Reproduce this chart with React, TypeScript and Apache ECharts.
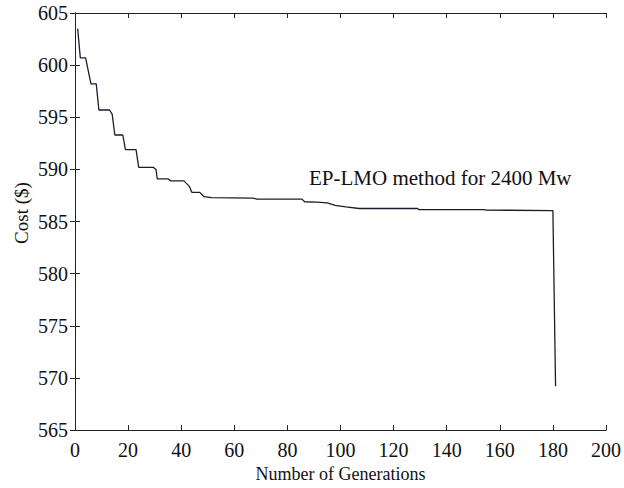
import React, { useEffect, useRef } from "react";
import * as echarts from "echarts";

const generations = [1, 2, 4, 6, 8, 9, 13, 14, 15, 18, 19, 23, 24, 29.5, 30.5, 31, 35, 36, 41, 43, 44, 47, 48.5, 51.5, 67, 68.5, 85.5, 86.5, 91, 95, 98, 102, 107, 129, 129.5, 154, 155, 180, 181];
const cost = [603.5, 600.7, 600.7, 598.2, 598.2, 595.7, 595.7, 595.3, 593.3, 593.3, 591.9, 591.9, 590.2, 590.2, 590.0, 589.1, 589.1, 588.9, 588.9, 588.4, 587.8, 587.8, 587.4, 587.3, 587.25, 587.15, 587.15, 586.9, 586.87, 586.8, 586.55, 586.4, 586.25, 586.25, 586.15, 586.15, 586.1, 586.05, 569.2];
const xTicks = [0, 20, 40, 60, 80, 100, 120, 140, 160, 180, 200];
const yTicks = [565, 570, 575, 580, 585, 590, 595, 600, 605];
const annotation = "EP-LMO method for 2400 Mw";
const yTitle = "Cost ($)";
const xTitle = "Number of Generations";

const FONT = "Liberation Serif";
const AXIS_COLOR = "#222";

export default function App() {
  const ref = useRef<HTMLDivElement>(null);
  useEffect(() => {
    document.body.style.margin = "0";
    if (!ref.current) return;
    const chart = echarts.init(ref.current, null, { renderer: "svg" });
    const axisBase = {
      axisLine: { show: true, lineStyle: { color: AXIS_COLOR, width: 1 } },
      axisTick: { show: true, inside: true, length: 5, lineStyle: { color: AXIS_COLOR, width: 1 } },
      splitLine: { show: false },
    };
    chart.setOption({
      animation: false,
      backgroundColor: "#ffffff",
      textStyle: { fontFamily: FONT },
      grid: { left: 75, right: 15, top: 13, bottom: 55, containLabel: false },
      xAxis: [
        {
          type: "value",
          min: xTicks[0],
          max: xTicks[xTicks.length - 1],
          interval: 20,
          position: "bottom",
          ...axisBase,
          axisLabel: { color: "#111", fontFamily: FONT, fontSize: 20, margin: 10 },
          name: xTitle,
          nameLocation: "middle",
          nameGap: 32,
          nameTextStyle: { color: "#111", fontFamily: FONT, fontSize: 18 },
        },
        {
          type: "value",
          min: xTicks[0],
          max: xTicks[xTicks.length - 1],
          interval: 20,
          position: "top",
          ...axisBase,
          axisLabel: { show: false },
        },
      ],
      yAxis: [
        {
          type: "value",
          min: yTicks[0],
          max: yTicks[yTicks.length - 1],
          interval: 5,
          position: "left",
          ...axisBase,
          axisLabel: { color: "#111", fontFamily: FONT, fontSize: 20, margin: 7 },
        },
        {
          type: "value",
          min: yTicks[0],
          max: yTicks[yTicks.length - 1],
          interval: 5,
          position: "right",
          ...axisBase,
          axisLabel: { show: false },
        },
      ],
      graphic: [
        {
          type: "text",
          left: 309,
          top: 167,
          style: { text: annotation, fontFamily: FONT, fontSize: 21, fill: "#111" },
        },
        {
          type: "text",
          x: 21,
          y: 213,
          rotation: Math.PI / 2,
          style: {
            text: yTitle,
            fontFamily: FONT,
            fontSize: 19,
            fill: "#111",
            textAlign: "center",
            textVerticalAlign: "middle",
          },
        },
      ],
      series: [
        {
          type: "line",
          xAxisIndex: 0,
          yAxisIndex: 0,
          data: generations.map((g, i) => [g, cost[i]]),
          showSymbol: false,
          lineStyle: { color: "#1c1c2c", width: 1.3 },
        },
      ],
    });
    return () => chart.dispose();
  }, []);
  return <div ref={ref} style={{ width: 624, height: 488 }} />;
}
